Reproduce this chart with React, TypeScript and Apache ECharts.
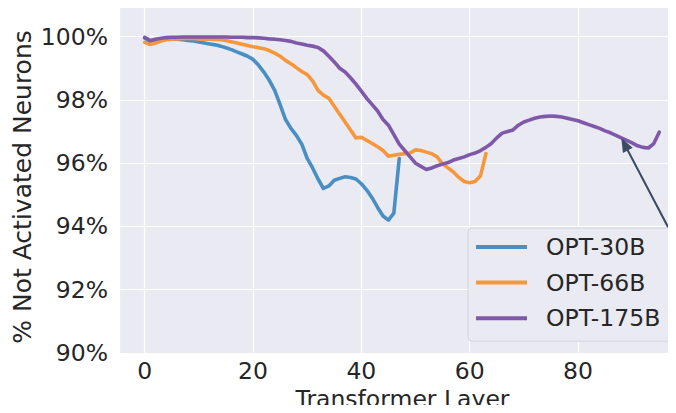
import React, { useEffect, useRef } from "react";
import * as echarts from "echarts";

const seriesNames = ["OPT-30B", "OPT-66B", "OPT-175B"];

const opt30b = [
  99.95, 99.85, 99.88, 99.92, 99.93, 99.93, 99.92, 99.9, 99.88, 99.86,
  99.83, 99.8, 99.77, 99.74, 99.7, 99.65, 99.59, 99.52, 99.45, 99.38,
  99.28, 99.1, 98.88, 98.62, 98.3, 97.85, 97.38, 97.1, 96.88, 96.6,
  96.15, 95.85, 95.5, 95.2, 95.28, 95.46, 95.52, 95.57, 95.55, 95.5,
  95.35, 95.15, 94.9, 94.6, 94.33, 94.2, 94.42, 96.15,
];

const opt66b = [
  99.82, 99.75, 99.8, 99.86, 99.9, 99.92, 99.93, 99.94, 99.94, 99.94,
  99.93, 99.92, 99.92, 99.91, 99.9, 99.88, 99.84, 99.8, 99.76, 99.72,
  99.68, 99.65, 99.62, 99.56, 99.48, 99.38, 99.25, 99.14, 99.02, 98.9,
  98.8, 98.6, 98.3, 98.15, 98.05, 97.8, 97.55, 97.3, 97.05, 96.8,
  96.82, 96.72, 96.62, 96.52, 96.4, 96.22, 96.25, 96.28, 96.3, 96.32,
  96.42, 96.4, 96.35, 96.3, 96.2, 95.98, 95.85, 95.72, 95.55, 95.42,
  95.38, 95.42, 95.6, 96.3,
];

const opt175b = [
  99.98, 99.88, 99.92, 99.95, 99.97, 99.98, 99.98, 99.99, 99.99, 99.99,
  99.99, 99.99, 99.99, 99.99, 99.99, 99.99, 99.98, 99.98, 99.98, 99.97,
  99.97, 99.96, 99.95, 99.93, 99.92, 99.9, 99.88, 99.85, 99.8, 99.77,
  99.73, 99.7, 99.66, 99.55, 99.38, 99.2, 99.0, 98.88, 98.7, 98.5,
  98.28, 98.05, 97.85, 97.65, 97.38, 97.2, 96.9, 96.6, 96.4, 96.2,
  96.0, 95.9, 95.8, 95.85, 95.92, 95.97, 96.02, 96.1, 96.15, 96.2,
  96.27, 96.32, 96.4, 96.5, 96.62, 96.8, 96.95, 97.0, 97.05, 97.2,
  97.3, 97.36, 97.42, 97.46, 97.48, 97.49, 97.48, 97.46, 97.42, 97.38,
  97.34, 97.28, 97.22, 97.16, 97.1, 97.02, 96.96, 96.88, 96.8, 96.72,
  96.64, 96.55, 96.5, 96.48, 96.62, 96.98,
];

const arrowFrom = [98.1, 93.5];
const arrowTo = [88.6, 96.6];

const colors = ["#4a8fc3", "#f7973b", "#7f59a9"];
const FONT = "DejaVu Sans";
const TXT = "#262626";

function toPairs(arr: number[]) {
  return arr.map((v, i) => [i, v]);
}

export default function App() {
  const ref = useRef<HTMLDivElement>(null);
  useEffect(() => {
    if (!ref.current) return;
    const chart = echarts.init(ref.current, null, { renderer: "svg" });
    const lineSeries = (name: string, data: number[], color: string, extra: any = {}) => ({
      name,
      type: "line",
      data: toPairs(data),
      showSymbol: false,
      symbol: "none",
      smooth: false,
      lineStyle: { color, width: 3.6, cap: "round", join: "round" },
      itemStyle: { color },
      emphasis: { disabled: true },
      z: 3,
      ...extra,
    });
    chart.setOption({
      animation: false,
      textStyle: { fontFamily: FONT },
      grid: {
        left: 119,
        top: 5,
        bottom: 60,
        right: 0,
        outerBoundsMode: "none",
        containLabel: false,
        show: true,
        backgroundColor: "#EAEAF2",
        borderWidth: 0,
      },
      xAxis: {
        type: "value",
        min: -4.75,
        max: 98.1,
        splitNumber: 5,
        axisLine: { show: false },
        axisTick: { show: false },
        splitLine: { show: true, lineStyle: { color: "#ffffff", width: 1.2 } },
        axisLabel: {
          color: TXT,
          fontSize: 23.5,
          fontFamily: FONT,
          margin: 6,
          formatter: (v: number) => (Math.abs(v % 20) < 1e-6 ? String(v) : ""),
        },
        name: "Transformer Layer",
        nameLocation: "middle",
        nameMoveOverlap: false,
        nameGap: 34,
        nameTextStyle: {
          color: TXT,
          fontSize: 23.5,
          fontFamily: FONT,
          padding: [0, 0, 0, 10],
        },
      },
      yAxis: {
        type: "value",
        min: 90,
        max: 101,
        interval: 2,
        axisLine: { show: false },
        axisTick: { show: false },
        splitLine: { show: true, lineStyle: { color: "#ffffff", width: 1.2 } },
        axisLabel: {
          color: TXT,
          fontSize: 23.5,
          fontFamily: FONT,
          margin: 11,
          formatter: (v: number) => (Math.abs(v % 2) < 1e-6 ? v + "%" : ""),
        },
        name: "% Not Activated Neurons",
        nameLocation: "middle",
        nameMoveOverlap: false,
        nameGap: 84,
        nameTextStyle: {
          color: TXT,
          fontSize: 25,
          fontFamily: FONT,
          padding: [0, 16, 0, 0],
        },
      },
      legend: {
        orient: "vertical",
        left: 468,
        top: 228,
        padding: [7, 15, 11, 8],
        itemGap: 11.6,
        itemWidth: 51,
        itemHeight: 4,
        icon: "rect",
        backgroundColor: "#EAEAF2",
        borderColor: "#d4d4dc",
        borderWidth: 1,
        borderRadius: 4,
        textStyle: {
          color: TXT,
          fontSize: 23.5,
          fontFamily: FONT,
          lineHeight: 24,
          padding: [0, 0, 0, 14],
        },
        data: seriesNames,
        z: 10,
      },
      series: [
        lineSeries(seriesNames[0], opt30b, colors[0]),
        lineSeries(seriesNames[1], opt66b, colors[1]),
        lineSeries(seriesNames[2], opt175b, colors[2], {
          markLine: {
            silent: true,
            animation: false,
            symbol: ["none", "triangle"],
            symbolSize: [11, 14],
            lineStyle: { color: "#3b4b63", width: 2, type: "solid" },
            label: { show: false },
            emphasis: { disabled: true },
            data: [[{ coord: arrowFrom }, { coord: arrowTo }]],
          },
        }),
      ],
    });
    return () => chart.dispose();
  }, []);
  return (
    <div
      ref={ref}
      style={{ width: 676, height: 413, margin: -8, overflow: "hidden" }}
    />
  );
}
